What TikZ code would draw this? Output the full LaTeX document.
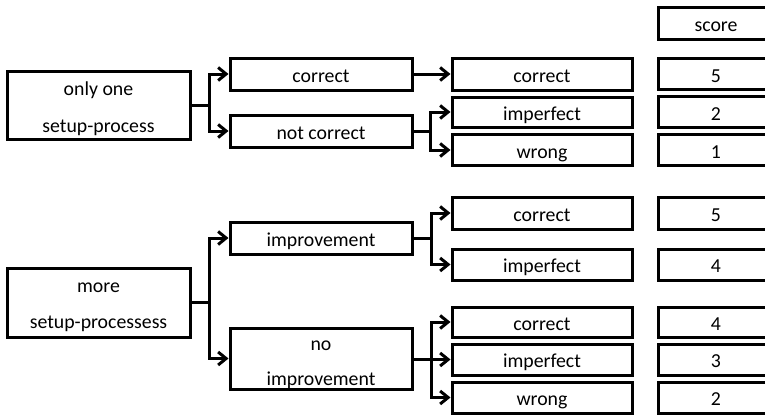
\documentclass[tikz,border=0pt]{standalone}
\usepackage{fontspec}
\setmainfont{Carlito}
\usetikzlibrary{arrows.meta}
\newcommand{\twolines}[3]{\begin{tabular}[b]{@{}c@{}}#1\\[#3]#2\end{tabular}}
\begin{document}
\begin{tikzpicture}[x=1pt,y=-1pt,
  box/.style={draw,line width=3pt,inner sep=0pt,
    font=\fontsize{19.8}{24}\selectfont,text height=17pt,text depth=0.5pt},
  two/.style={box,text depth=0pt},
  arr/.style={line width=3pt,-{Straight Barb[length=8pt,width=13pt,line width=3pt]}},
  ln/.style={line width=3pt}]
\useasboundingbox (0,0) rectangle (765,415);
% top group
\node[two,text height=54pt,minimum width=183pt,minimum height=68pt] (A1) at (98.5,105) {\twolines{only one}{setup-process}{13pt}};
\node[box,minimum width=182pt,minimum height=32pt] (B1) at (321,74) {correct};
\node[box,minimum width=182pt,minimum height=32pt] (B2) at (321,131) {not correct};
\node[box,minimum width=180pt,minimum height=32pt] (C1) at (542,74) {correct};
\node[box,minimum width=180pt,minimum height=30pt] (C2) at (542,112) {imperfect};
\node[box,minimum width=180pt,minimum height=31pt] (C3) at (542,150) {wrong};
% scores
\node[box,minimum width=116pt,minimum height=32pt] (S0) at (716,23) {score};
\node[box,minimum width=116pt,minimum height=31pt] (S1) at (716,74) {5};
\node[box,minimum width=116pt,minimum height=31pt] (S2) at (716,112) {2};
\node[box,minimum width=116pt,minimum height=31pt] (S3) at (716,150) {1};
% bottom group
\node[two,text height=51pt,minimum width=183pt,minimum height=69pt] (F) at (98.5,302.5) {\twolines{more}{setup-processess}{11.5pt}};
\node[box,minimum width=182pt,minimum height=32pt] (D) at (321,238) {improvement};
\node[two,text height=53pt,minimum width=182pt,minimum height=61pt] (E) at (321,358.5) {\twolines{no}{improvement}{11pt}};
\node[box,minimum width=180pt,minimum height=32pt] (G1) at (542,213) {correct};
\node[box,minimum width=180pt,minimum height=31pt] (G2) at (542,264.5) {imperfect};
\node[box,minimum width=180pt,minimum height=30pt] (G3) at (542,322) {correct};
\node[box,minimum width=180pt,minimum height=31pt] (G4) at (542,359.5) {imperfect};
\node[box,minimum width=180pt,minimum height=31pt] (G5) at (542,397.5) {wrong};
\node[box,minimum width=116pt,minimum height=32pt] (T1) at (716,213) {5};
\node[box,minimum width=116pt,minimum height=31pt] (T2) at (716,264.5) {4};
\node[box,minimum width=116pt,minimum height=30pt] (T3) at (716,322) {4};
\node[box,minimum width=116pt,minimum height=31pt] (T4) at (716,359.5) {3};
\node[box,minimum width=116pt,minimum height=31pt] (T5) at (716,397.5) {2};
% junctions
\coordinate (j1) at (209,105);
\coordinate (j2) at (430,131);
\coordinate (j3) at (209,302.5);
\coordinate (j4) at (431,238);
\coordinate (j5) at (431,359.5);
% connectors
\draw[ln] (A1.east) -- (j1);
\draw[arr] (j1) |- (B1.west);
\draw[arr] (j1) |- (B2.west);
\draw[arr] (B1.east) -- (C1.west);
\draw[ln] (B2.east) -- (j2);
\draw[arr] (j2) |- (C2.west);
\draw[arr] (j2) |- (C3.west);
\draw[ln] (F.east) -- (j3);
\draw[arr] (j3) |- (D.west);
\draw[arr] (j3) |- (E.west);
\draw[ln] (D.east) -- (j4);
\draw[arr] (j4) |- (G1.west);
\draw[arr] (j4) |- (G2.west);
\draw[ln] (E.east |- j5) -- (j5);
\draw[arr] (j5) |- (G3.west);
\draw[arr] (j5) -- (G4.west);
\draw[arr] (j5) |- (G5.west);
\end{tikzpicture}
\end{document}
